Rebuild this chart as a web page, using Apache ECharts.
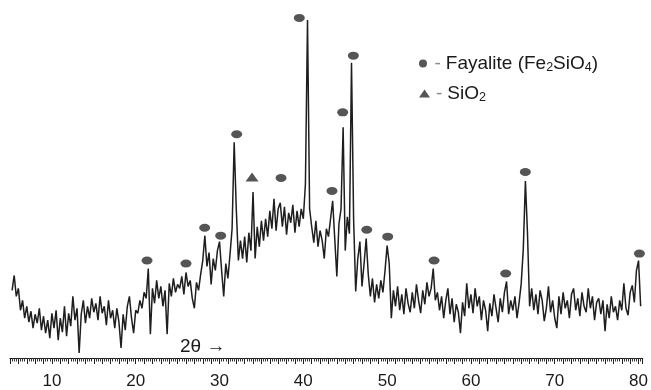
<!DOCTYPE html>
<html>
<head>
<meta charset="utf-8">
<script src="https://cdn.jsdelivr.net/npm/echarts@6/dist/echarts.min.js"></script>
<style>html,body{margin:0;padding:0;background:#fff}#c{width:651px;height:390px}</style>
</head>
<body>
<div id="c"></div>
<script>
// XRD scan: 2θ sampling grid (degrees)
const scanStart = 5.25;
const scanStep = 0.25;
// intensity (arbitrary units), one value per grid step
const intensity = [
  68, 83, 62, 70, 48, 58, 40, 52, 36, 47, 30, 44, 35, 50, 28, 42, 25, 38, 20, 45,
  30, 48, 18, 40, 26, 52, 22, 45, 32, 62, 38, 50, 5, 44, 58, 35, 52, 40, 60, 46,
  55, 38, 62, 45, 52, 33, 58, 40, 48, 30, 50, 36, 10, 44, 28, 52, 62, 40, 25, 48,
  45, 58, 50, 66, 60, 90, 24, 70, 55, 78, 60, 72, 52, 68, 24, 75, 62, 80, 66, 74,
  70, 82, 64, 86, 72, 78, 60, 50, 76, 68, 84, 98, 123, 92, 106, 74, 100, 88, 108, 117,
  88, 62, 95, 80, 104, 130, 217, 150, 98, 118, 100, 122, 96, 126, 108, 167, 100, 132, 112, 138,
  118, 140, 122, 148, 130, 160, 128, 150, 156, 132, 152, 124, 146, 136, 154, 126, 148, 132, 150, 140,
  175, 340, 150, 132, 116, 138, 112, 128, 118, 100, 130, 122, 140, 158, 120, 82, 135, 150, 232, 108,
  142, 125, 297, 140, 67, 100, 117, 72, 95, 120, 84, 62, 80, 56, 74, 60, 78, 66, 88, 113,
  95, 40, 68, 52, 72, 48, 64, 44, 70, 55, 46, 66, 50, 74, 58, 45, 68, 54, 76, 62,
  70, 90, 58, 66, 48, 62, 40, 58, 70, 44, 60, 36, 54, 46, 25, 56, 42, 75, 50, 64,
  45, 70, 52, 62, 38, 58, 48, 27, 55, 42, 64, 50, 36, 60, 46, 66, 77, 44, 58, 48,
  62, 40, 56, 75, 110, 178, 125, 52, 70, 48, 64, 44, 68, 58, 37, 50, 72, 46, 58, 40,
  30, 62, 44, 66, 50, 58, 40, 64, 70, 48, 60, 42, 66, 52, 46, 70, 50, 62, 38, 56,
  60, 44, 58, 27, 54, 40, 62, 46, 52, 38, 58, 48, 75, 50, 43, 66, 73, 56, 88, 98, 52
];
// phase markers [2θ, height]
const fayaliteMarks = [
  [21.35, 98], [26.0, 95], [28.23, 131], [30.14, 123], [32.05, 225],
  [37.34, 181], [39.52, 342], [43.42, 168], [44.7, 247], [45.97, 304],
  [47.57, 129], [50.07, 122], [55.6, 98], [64.15, 85], [66.49, 187], [80.1, 105]
];
const sio2Marks = [[33.88, 182]];
const xTickLabels = [10, 20, 30, 40, 50, 60, 70, 80];

const FONT = '"Liberation Sans", Arial, Helvetica, sans-serif';
const pattern = intensity.map((v, i) => [scanStart + i * scanStep, v]);

const chart = echarts.init(document.getElementById('c'), null, {renderer: 'canvas'});
const legendText = {
  fontSize: 19, color: '#1a1a1a', fontFamily: FONT,
  rich: {
    d: {fontSize: 19, color: '#8a8a8a', fontFamily: FONT, padding: [0, 5, 0, 1], lineHeight: 22},
    t: {fontSize: 19, color: '#1a1a1a', fontFamily: FONT, lineHeight: 22},
    s: {fontSize: 12.5, color: '#1a1a1a', fontFamily: FONT, lineHeight: 12, verticalAlign: 'bottom'}
  }
};
chart.setOption({
  animation: false,
  backgroundColor: '#ffffff',
  grid: {left: 10, right: 8, top: 0, bottom: 30},
  xAxis: {
    type: 'value', min: 5, max: 80.5, interval: 1,
    axisLine: {lineStyle: {color: '#1a1a1a', width: 1.2}},
    axisTick: {length: 6, lineStyle: {color: '#222', width: 1}},
    minorTick: {show: true, splitNumber: 4, length: 3.5, lineStyle: {color: '#333', width: 1}},
    splitLine: {show: false},
    axisLabel: {
      margin: 15, fontSize: 17, color: '#1a1a1a', fontFamily: FONT,
      formatter: v => (xTickLabels.indexOf(v) >= 0 ? String(v) : '')
    }
  },
  yAxis: {type: 'value', min: 0, max: 360, show: false},
  legend: [
    {
      data: [{name: 'Fayalite', icon: 'circle'}], left: 419, top: 54, padding: 0,
      itemWidth: 11, itemHeight: 8, textStyle: legendText,
      formatter: () => '{d|-}{t|Fayalite (Fe}{s|2}{t|SiO}{s|4}{t|)}'
    },
    {
      data: [{name: 'SiO2', icon: 'triangle'}], left: 419, top: 84, padding: 0,
      itemWidth: 11, itemHeight: 8, textStyle: legendText,
      formatter: () => '{d|-}{t|SiO}{s|2}'
    }
  ],
  series: [
    {
      type: 'line', name: 'pattern', data: pattern, symbol: 'none',
      lineStyle: {color: '#1e1e1e', width: 1.5}, silent: true
    },
    {
      type: 'scatter', name: 'Fayalite', data: fayaliteMarks, symbol: 'circle',
      symbolSize: [11, 8], itemStyle: {color: '#2b2b2b'}
    },
    {
      type: 'scatter', name: 'SiO2', data: sio2Marks, symbol: 'triangle',
      symbolSize: [13, 9], itemStyle: {color: '#2b2b2b'}
    }
  ],
  graphic: [
    {
      type: 'text', left: 180, top: 337,
      style: {text: '2θ →', font: '19px ' + FONT, fill: '#1a1a1a'}
    }
  ]
});
</script>
</body>
</html>
